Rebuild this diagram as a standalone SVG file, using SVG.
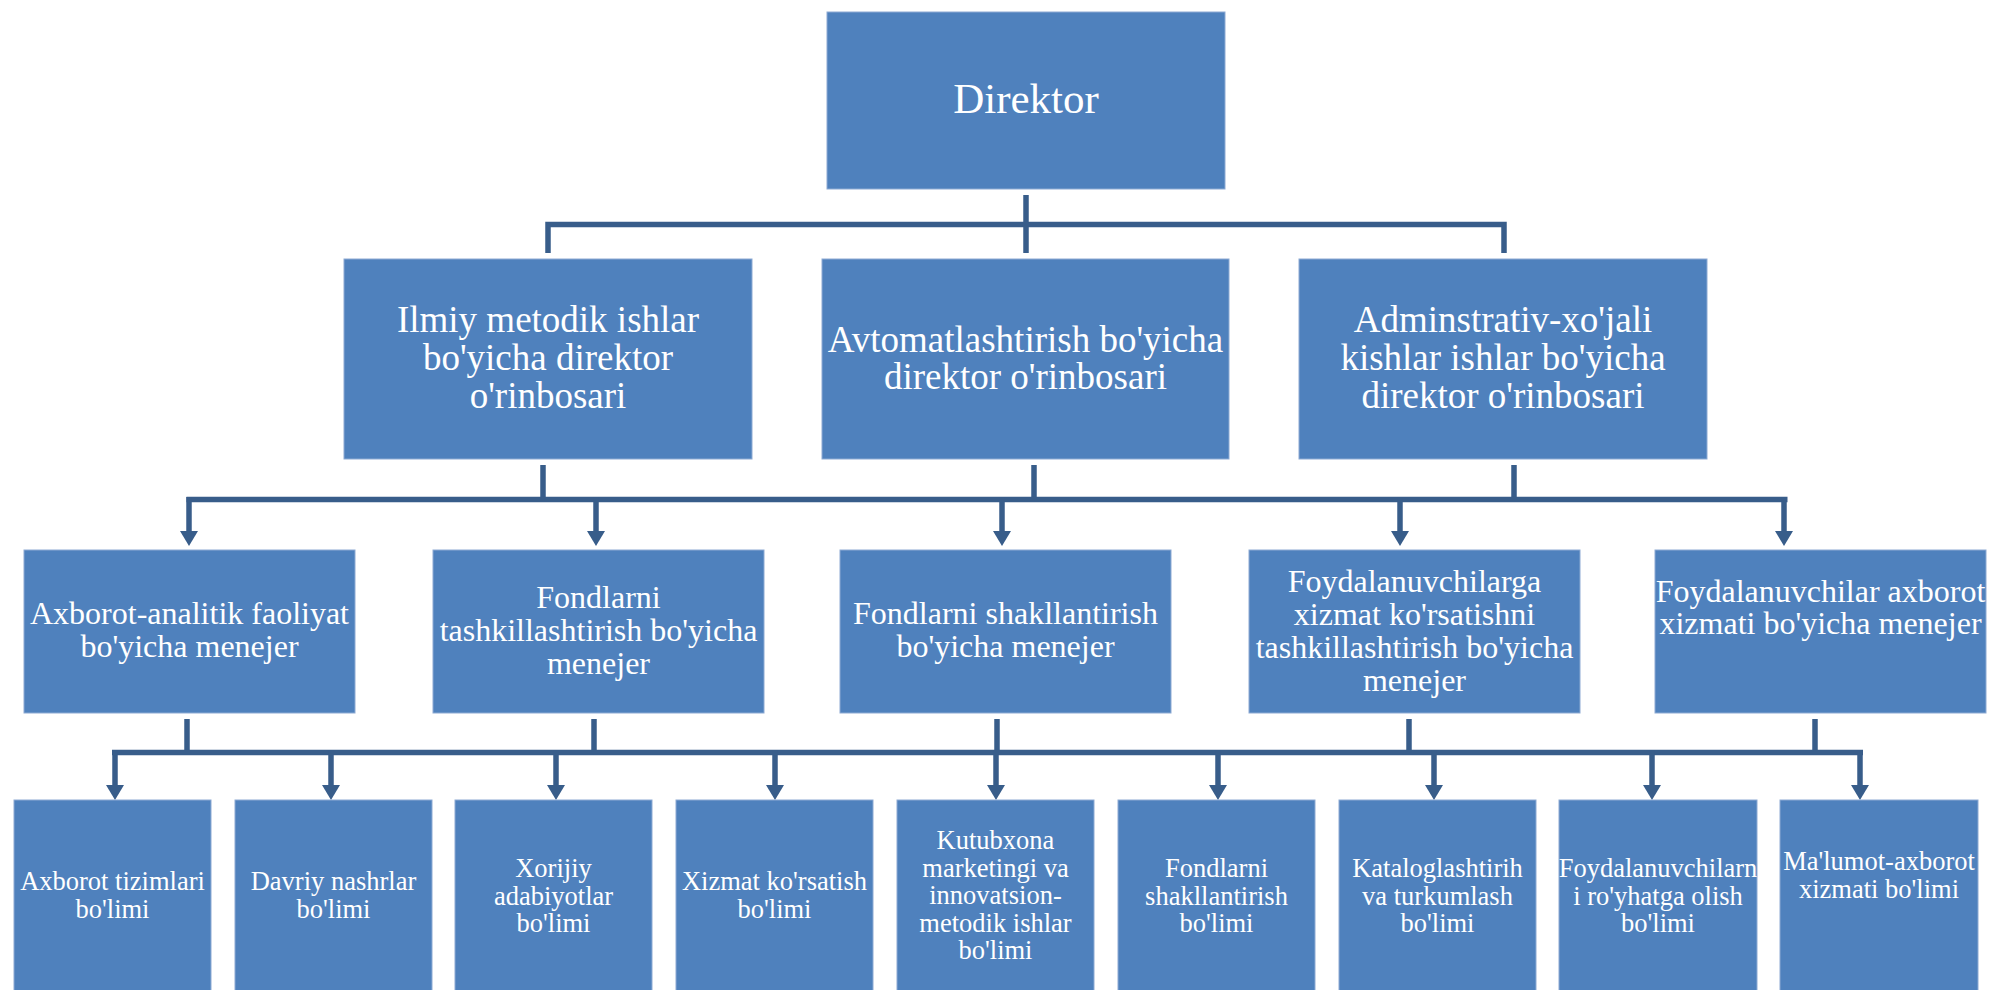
<svg xmlns="http://www.w3.org/2000/svg" width="1989" height="990" viewBox="0 0 1989 990">
<defs>
<style>
.box{fill:#4F81BD;stroke:#8DAAD3;stroke-width:1}
.t{font-family:"Liberation Serif","Times New Roman",serif;fill:#FFFFFF;text-anchor:middle}
.t1{font-size:43px}
.t2{font-size:37px}
.t3{font-size:32px}
.t4{font-size:26.5px}
.ln{fill:none;stroke:#385D8A;stroke-width:5.5;stroke-linecap:butt;stroke-linejoin:miter}
.ar{fill:none;stroke:#385D8A;stroke-width:5.5;marker-end:url(#ah)}
</style>
<marker id="ah" markerUnits="userSpaceOnUse" viewBox="0 -10 16 20" markerWidth="16" markerHeight="20" refX="5" refY="0" orient="auto">
<path d="M0,-9 L15,0 L0,9 Z" fill="#385D8A"/>
</marker>
</defs>
<rect width="1989" height="990" fill="#FFFFFF"/>

<g id="connectors">
<path class="ln" d="M1026,195 V253 M548,253 V224.5 H1504 V253"/>
<path class="ln" d="M543,465 V499.5 M1034,465 V499.5 M1514,465 V499.5 M186.5,499.5 H1787.5"/>
<path class="ar" d="M189,497 V536"/>
<path class="ar" d="M596,497 V536"/>
<path class="ar" d="M1002,497 V536"/>
<path class="ar" d="M1400,497 V536"/>
<path class="ar" d="M1784,497 V536"/>
<path class="ln" d="M187,719 V752.5 M594,719 V752.5 M997,719 V752.5 M1409,719 V752.5 M1815,719 V752.5 M112,752.5 H1863"/>
<path class="ar" d="M115,750 V790"/>
<path class="ar" d="M331,750 V790"/>
<path class="ar" d="M556,750 V790"/>
<path class="ar" d="M775,750 V790"/>
<path class="ar" d="M996,750 V790"/>
<path class="ar" d="M1218,750 V790"/>
<path class="ar" d="M1434,750 V790"/>
<path class="ar" d="M1652,750 V790"/>
<path class="ar" d="M1860,750 V790"/>
</g>

<g id="n-direktor">
<rect class="box" x="827" y="12" width="398" height="177"/>
<text class="t t1" x="1026" y="113">Direktor</text>
</g>

<g id="n-ilmiy">
<rect class="box" x="344" y="259" width="408" height="200"/>
<text class="t t2" x="548"><tspan x="548" y="332">Ilmiy metodik ishlar</tspan><tspan x="548" y="370">bo'yicha direktor</tspan><tspan x="548" y="408">o'rinbosari</tspan></text>
</g>
<g id="n-avtomat">
<rect class="box" x="822" y="259" width="407" height="200"/>
<text class="t t2" x="1025.5"><tspan x="1025.5" y="352">Avtomatlashtirish bo'yicha</tspan><tspan x="1025.5" y="389">direktor o'rinbosari</tspan></text>
</g>
<g id="n-admin">
<rect class="box" x="1299" y="259" width="408" height="200"/>
<text class="t t2" x="1503"><tspan x="1503" y="332">Adminstrativ-xo'jali</tspan><tspan x="1503" y="370">kishlar ishlar bo'yicha</tspan><tspan x="1503" y="408">direktor o'rinbosari</tspan></text>
</g>

<g id="n-m1">
<rect class="box" x="24" y="550" width="331" height="163"/>
<text class="t t3" x="189.5"><tspan x="189.5" y="624">Axborot-analitik faoliyat</tspan><tspan x="189.5" y="657">bo'yicha menejer</tspan></text>
</g>
<g id="n-m2">
<rect class="box" x="433" y="550" width="331" height="163"/>
<text class="t t3" x="598.5"><tspan x="598.5" y="608">Fondlarni</tspan><tspan x="598.5" y="641">tashkillashtirish bo'yicha</tspan><tspan x="598.5" y="674">menejer</tspan></text>
</g>
<g id="n-m3">
<rect class="box" x="840" y="550" width="331" height="163"/>
<text class="t t3" x="1005.5"><tspan x="1005.5" y="624">Fondlarni shakllantirish</tspan><tspan x="1005.5" y="657">bo'yicha menejer</tspan></text>
</g>
<g id="n-m4">
<rect class="box" x="1249" y="550" width="331" height="163"/>
<text class="t t3" x="1414.5"><tspan x="1414.5" y="592">Foydalanuvchilarga</tspan><tspan x="1414.5" y="625">xizmat ko'rsatishni</tspan><tspan x="1414.5" y="658">tashkillashtirish bo'yicha</tspan><tspan x="1414.5" y="691">menejer</tspan></text>
</g>
<g id="n-m5">
<rect class="box" x="1655" y="550" width="331" height="163"/>
<text class="t t3" x="1820.5"><tspan x="1820.5" y="602">Foydalanuvchilar axborot</tspan><tspan x="1820.5" y="634">xizmati bo'yicha menejer</tspan></text>
</g>

<g id="n-d1">
<rect class="box" x="14" y="800" width="197" height="195"/>
<text class="t t4" x="112.5"><tspan x="112.5" y="890">Axborot tizimlari</tspan><tspan x="112.5" y="918">bo'limi</tspan></text>
</g>
<g id="n-d2">
<rect class="box" x="235" y="800" width="197" height="195"/>
<text class="t t4" x="333.5"><tspan x="333.5" y="890">Davriy nashrlar</tspan><tspan x="333.5" y="918">bo'limi</tspan></text>
</g>
<g id="n-d3">
<rect class="box" x="455" y="800" width="197" height="195"/>
<text class="t t4" x="553.5"><tspan x="553.5" y="877">Xorijiy</tspan><tspan x="553.5" y="904.5">adabiyotlar</tspan><tspan x="553.5" y="932">bo'limi</tspan></text>
</g>
<g id="n-d4">
<rect class="box" x="676" y="800" width="197" height="195"/>
<text class="t t4" x="774.5"><tspan x="774.5" y="890">Xizmat ko'rsatish</tspan><tspan x="774.5" y="918">bo'limi</tspan></text>
</g>
<g id="n-d5">
<rect class="box" x="897" y="800" width="197" height="195"/>
<text class="t t4" x="995.5"><tspan x="995.5" y="849">Kutubxona</tspan><tspan x="995.5" y="876.5">marketingi va</tspan><tspan x="995.5" y="904">innovatsion-</tspan><tspan x="995.5" y="931.5">metodik ishlar</tspan><tspan x="995.5" y="959">bo'limi</tspan></text>
</g>
<g id="n-d6">
<rect class="box" x="1118" y="800" width="197" height="195"/>
<text class="t t4" x="1216.5"><tspan x="1216.5" y="877">Fondlarni</tspan><tspan x="1216.5" y="904.5">shakllantirish</tspan><tspan x="1216.5" y="932">bo'limi</tspan></text>
</g>
<g id="n-d7">
<rect class="box" x="1339" y="800" width="197" height="195"/>
<text class="t t4" x="1437.5"><tspan x="1437.5" y="877">Kataloglashtirih</tspan><tspan x="1437.5" y="904.5">va turkumlash</tspan><tspan x="1437.5" y="932">bo'limi</tspan></text>
</g>
<g id="n-d8">
<rect class="box" x="1559" y="800" width="198" height="195"/>
<text class="t t4" x="1658"><tspan x="1658" y="877">Foydalanuvchilarn</tspan><tspan x="1658" y="904.5">i ro'yhatga olish</tspan><tspan x="1658" y="932">bo'limi</tspan></text>
</g>
<g id="n-d9">
<rect class="box" x="1780" y="800" width="198" height="195"/>
<text class="t t4" x="1879"><tspan x="1879" y="870">Ma'lumot-axborot</tspan><tspan x="1879" y="898">xizmati bo'limi</tspan></text>
</g>
</svg>
